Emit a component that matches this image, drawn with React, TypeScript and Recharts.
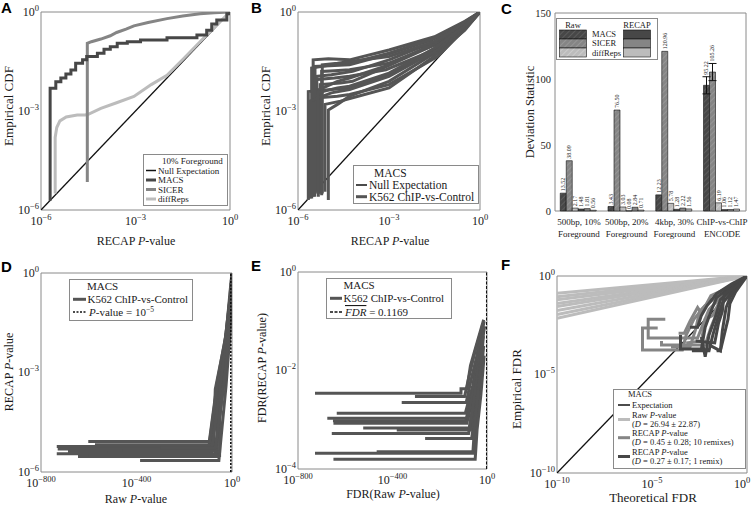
import React from 'react';
import { ComposedChart, Line, XAxis, YAxis, ReferenceArea, Bar, LabelList, ErrorBar } from 'recharts';

const SERIF = "'Liberation Serif', 'Times New Roman', serif";
const SANS = "'Liberation Sans', Arial, sans-serif";
const C_DARK = '#474747';
const C_MID = '#858585';
const C_LIGHT = '#bcbcbc';
const C_BLACK = '#111111';
const C_FRAME = '#8a8a8a';
const C_TEXT = '#1a1a1a';

type Pt = [number, number];
const xy = (pts: Pt[]) => pts.map(([x, y]) => ({ x, y }));

// ---------- Panel A (log10 values) ----------
const aTicks = [-6, -3, 0];
const aNull: Pt[] = [[-6, -6], [0, 0]];
const aMacs: Pt[] = [[-5.71, -5.72], [-5.71, -2.31], [-5.53, -2.11], [-5.37, -2.0], [-5.21, -1.88], [-5.05, -1.76], [-4.9, -1.55], [-4.68, -1.45], [-4.55, -1.35], [-4.21, -1.25], [-4.0, -1.13], [-3.8, -1.05], [-3.58, -0.95], [-3.26, -0.9], [-2.84, -0.85], [-2.0, -0.78], [-1.05, -0.7], [-0.74, -0.55], [-0.58, -0.36], [-0.42, -0.24], [-0.1, -0.05], [0, 0]];
const aSicer: Pt[] = [[-4.53, -5.15], [-4.53, -0.95], [-4.4, -0.9], [-4.1, -0.82], [-3.8, -0.72], [-3.6, -0.62], [-3.3, -0.52], [-3.05, -0.42], [-2.6, -0.32], [-2.0, -0.2], [-1.5, -0.12], [-0.95, -0.05], [-0.5, -0.02], [0, 0]];
const aDiffReps: Pt[] = [[-5.55, -5.5], [-5.55, -3.8], [-5.5, -3.5], [-5.4, -3.3], [-5.2, -3.18], [-4.85, -3.12], [-4.6, -3.12], [-4.5, -3.1], [-4.1, -2.92], [-3.6, -2.75], [-3.05, -2.56], [-2.5, -2.2], [-2.0, -1.92], [-1.5, -1.44], [-0.95, -0.9], [-0.45, -0.42], [0, 0]];

// ---------- Panel B ----------
const bNull: Pt[] = [[-6, -6], [0, 0]];
const bK562: Pt[][] = [
  [[-5.66, -5.7], [-5.66, -2.41], [-4.9, -2.35], [-4.3, -2.3], [-3.0, -1.9], [-1.5, -1.1], [-0.5, -0.4], [0, 0]],
  [[-5.5, -5.6], [-5.5, -1.45], [-5.0, -1.42], [-4.3, -1.45], [-3.0, -1.15], [-1.5, -0.75], [-0.5, -0.28], [0, 0]],
  [[-5.44, -5.5], [-5.44, -1.65], [-4.8, -1.62], [-4.3, -1.6], [-3.1, -1.3], [-1.6, -0.85], [-0.5, -0.32], [0, 0]],
  [[-5.38, -5.45], [-5.38, -1.95], [-4.9, -1.9], [-4.2, -1.8], [-3.0, -1.45], [-1.5, -0.9], [-0.5, -0.35], [0, 0]],
  [[-5.33, -5.6], [-5.33, -2.6], [-4.7, -2.55], [-4.3, -2.5], [-3.0, -2.2], [-1.4, -1.35], [-0.5, -0.52], [0, 0]],
  [[-5.27, -5.5], [-5.27, -2.2], [-4.6, -2.15], [-4.2, -2.1], [-3.2, -1.7], [-1.5, -1.0], [-0.5, -0.38], [0, 0]],
  [[-5.22, -5.55], [-5.22, -1.8], [-4.8, -1.78], [-4.3, -1.75], [-3.0, -1.55], [-1.5, -1.0], [-0.4, -0.4], [0, 0]],
  [[-5.11, -5.45], [-5.11, -2.8], [-4.6, -2.7], [-4.2, -2.6], [-3.0, -2.3], [-1.6, -1.4], [-0.5, -0.55], [0, 0]],
  [[-5.0, -5.7], [-5.0, -2.97], [-4.7, -2.8], [-4.3, -2.55], [-3.0, -2.1], [-1.5, -1.25], [-0.5, -0.48], [0, 0]],
  [[-5.55, -5.65], [-5.55, -1.7], [-4.9, -1.6], [-4.3, -1.55], [-3.0, -1.25], [-1.5, -0.8], [-0.5, -0.3], [0, 0]],
  [[-5.3, -5.5], [-5.3, -2.35], [-4.7, -2.1], [-4.3, -2.0], [-3.0, -1.6], [-1.5, -0.95], [-0.5, -0.37], [0, 0]],
  [[-5.45, -5.6], [-5.45, -2.05], [-4.8, -2.0], [-4.3, -1.95], [-3.1, -1.75], [-1.5, -1.15], [-0.5, -0.45], [0, 0]],
  [[-5.6, -5.65], [-5.6, -2.7], [-4.9, -2.45], [-4.3, -2.35], [-3.0, -1.95], [-1.5, -1.2], [-0.5, -0.46], [0, 0]],
  [[-5.2, -5.5], [-5.2, -1.6], [-4.7, -1.55], [-4.3, -1.5], [-3.0, -1.35], [-1.5, -0.9], [-0.5, -0.33], [0, 0]],
  [[-5.35, -5.5], [-5.35, -2.45], [-4.7, -2.3], [-4.3, -2.25], [-3.0, -1.85], [-1.5, -1.1], [-0.5, -0.42], [0, 0]],
];

// ---------- Panel C ----------
const cCatLine1 = ['500bp, 10%', '500bp, 20%', '4kbp, 30%', 'ChIP-vs-ChIP'];
const cCatLine2 = ['Foreground', 'Foreground', 'Foreground', 'ENCODE'];
const cRawMacs = [13.52, 3.43, 12.23, 95.22];
const cRawSicer = [38.09, 76.5, 120.96, 105.26];
const cRawDiffReps = [2.17, 3.03, 5.78, 6.19];
const cRecapMacs = [1.48, 0.08, 1.28, 1.06];
const cRecapSicer = [1.81, 2.84, 2.22, 1.12];
const cRecapDiffReps = [0.56, 0.71, 1.56, 1.47];
const cRawMacsErr = [0, 0, 0, 6.5];
const cRawSicerErr = [0, 0, 0, 6.5];
const cTicks = [0, 50, 100, 150];
const cData = cCatLine1.map((cat, i) => ({
  cat,
  rawMacs: cRawMacs[i], rawSicer: cRawSicer[i], rawDiff: cRawDiffReps[i],
  recMacs: cRecapMacs[i], recSicer: cRecapSicer[i], recDiff: cRecapDiffReps[i],
  errMacs: cRawMacsErr[i], errSicer: cRawSicerErr[i],
}));

// ---------- Panel D ----------
const dXTicks = [-800, -400, 0];
const dYTicks = [-6, -3, 0];
const dThreshold: Pt[] = [[-5, -6], [-5, 0]];
const dK562: Pt[][] = [
  [[-602, -5.08], [-95, -5.08], [-62, -3.3], [-24, -1.8], [-6, -0.4]],
  [[-734, -5.23], [-90, -5.23], [-48, -3.3], [-15, -1.8], [-3, -0.2]],
  [[-730, -5.31], [-78, -5.31], [-70, -3.5], [-28, -2.0], [-8, -0.7]],
  [[-734, -5.45], [-72, -5.45], [-32, -3.2], [-10, -1.6], [-1, 0]],
  [[-687, -5.38], [-85, -5.38], [-55, -3.3], [-20, -1.8], [-4, -0.3]],
  [[-645, -5.53], [-62, -5.53], [-60, -3.9], [-30, -2.1], [-10, -0.9]],
  [[-574, -5.18], [-82, -5.18], [-42, -3.1], [-12, -1.7], [-2, -0.1]],
  [[-385, -5.65], [-55, -5.65], [-25, -3.4], [-8, -1.8], [-1, -0.3]],
  [[-520, -5.42], [-100, -5.42], [-66, -3.6], [-30, -2.2], [-9, -1.0]],
  [[-460, -5.35], [-66, -5.35], [-36, -3.3], [-14, -1.9], [-3, -0.5]],
  [[-600, -5.5], [-52, -5.5], [-50, -3.4], [-18, -1.8], [-5, -0.6]],
  [[-300, -5.28], [-70, -5.28], [-28, -3.0], [-10, -1.5], [0, 0]],
];

// ---------- Panel E ----------
const eXTicks = [-800, -400, 0];
const eYTicks = [-4, -2, 0];
const eThreshold: Pt[] = [[-0.93, -4], [-0.93, 0]];
const eK562: Pt[][] = [
  [[-728, -2.46], [-110, -2.46], [-110, -2.37], [-85, -2.37], [-70, -1.9], [-40, -1.4], [-14, -0.97]],
  [[-305, -2.53], [-95, -2.53], [-75, -2.1], [-50, -1.6], [-22, -1.15]],
  [[-361, -2.65], [-88, -2.65], [-68, -2.2], [-45, -1.75], [-18, -1.05]],
  [[-636, -2.87], [-92, -2.87], [-60, -2.3], [-35, -1.55], [-12, -1.0]],
  [[-676, -2.97], [-80, -2.97], [-55, -2.4], [-38, -1.85], [-20, -1.25]],
  [[-652, -3.02], [-90, -3.02], [-66, -2.55], [-44, -2.0], [-24, -1.3]],
  [[-650, -3.07], [-85, -3.07], [-62, -2.5], [-42, -1.9], [-25, -1.35]],
  [[-524, -3.17], [-75, -3.17], [-50, -2.45], [-30, -1.7], [-10, -1.1]],
  [[-382, -3.21], [-70, -3.21], [-45, -2.6], [-28, -2.0], [-15, -1.3]],
  [[-657, -3.28], [-78, -3.28], [-58, -2.7], [-40, -2.05], [-22, -1.45]],
  [[-262, -3.38], [-65, -3.38], [-48, -2.8], [-32, -2.1], [-16, -1.2]],
  [[-467, -3.65], [-55, -3.65], [-45, -3.0], [-30, -2.3], [-14, -1.5]],
  [[-728, -3.68], [-60, -3.68], [-52, -3.1], [-36, -2.4], [-19, -1.6]],
  [[-650, -3.8], [-50, -3.8], [-42, -3.2], [-26, -2.5], [-12, -1.7]],
];

// ---------- Panel F ----------
const fTicks = [-10, -5, 0];
const fExpectation: Pt[] = [[-10, -10], [0, 0]];
const fRaw: Pt[][] = [
  [[-10, -0.88], [0, 0]], [[-10, -1.05], [0, 0]], [[-10, -1.2], [0, 0]], [[-10, -1.4], [0, 0]],
  [[-10, -1.55], [0, 0]], [[-10, -1.75], [0, 0]], [[-10, -1.95], [0, 0]], [[-10, -2.15], [0, 0]],
];
const fRecap10: Pt[][] = [
  [[-4.7, -2.64], [-5.5, -2.64], [-5.5, -3.76], [-3.4, -3.76], [-3.2, -3.0], [-2.8, -2.2], [-2.2, -1.5], [-1.2, -0.8], [0, 0]],
  [[-4.3, -2.2], [-5.2, -2.2], [-5.2, -3.15], [-2.6, -3.15], [-2.3, -2.4], [-2.0, -1.7], [-1.5, -1.2], [-0.8, -0.5], [0, 0]],
  [[-4.5, -3.3], [-4.5, -3.5], [-2.2, -3.5], [-1.9, -2.6], [-1.6, -1.9], [-1.3, -1.3], [-0.6, -0.6], [0, 0]],
  [[-3.6, -2.9], [-3.3, -2.9], [-3.0, -2.3], [-2.6, -1.6], [-2.4, -1.9], [-1.9, -1.0], [-1.0, -0.6], [0, 0]],
  [[-3.2, -3.4], [-2.4, -3.3], [-2.2, -2.2], [-1.8, -2.0], [-1.5, -1.4], [-0.9, -0.9], [-0.4, -0.3], [0, 0]],
  [[-4.0, -3.6], [-3.0, -3.6], [-2.7, -2.7], [-2.5, -1.8], [-2.0, -1.3], [-1.4, -0.9], [0, 0]],
];
const fRecap1: Pt[][] = [
  [[-3.5, -3.0], [-3.5, -3.7], [-2.4, -3.7], [-2.2, -2.6], [-1.9, -1.8], [-1.6, -1.1], [-0.8, -0.5], [0, 0]],
  [[-2.9, -3.8], [-2.0, -3.8], [-1.8, -3.0], [-1.5, -2.0], [-1.3, -1.4], [-0.7, -0.7], [0, 0]],
  [[-2.4, -3.1], [-2.2, -4.1], [-2.0, -3.0], [-1.7, -2.2], [-1.4, -1.2], [-0.5, -0.4], [0, 0]],
  [[-2.0, -3.5], [-1.4, -3.8], [-1.3, -2.8], [-1.1, -1.6], [-0.9, -1.1], [-0.4, -0.3], [0, 0]],
  [[-2.7, -3.3], [-1.7, -3.4], [-1.5, -2.4], [-1.3, -1.8], [-1.2, -0.9], [-0.5, -0.5], [0, 0]],
  [[-3.0, -2.6], [-2.6, -2.6], [-2.4, -2.0], [-2.1, -1.5], [-1.6, -0.9], [-0.8, -0.4], [0, 0]],
  [[-1.6, -3.8], [-1.4, -3.8], [-1.0, -2.2], [-0.9, -1.4], [-0.6, -0.8], [0, 0]],
];

// ---------- helpers ----------
const expStr = (v: number) => (v === 0 ? '0' : '\u2212' + Math.abs(v));
const PowX = (props: any) => {
  const { x, y, payload, shift } = props;
  return (
    <text x={x + (shift || 0)} y={y + 15} textAnchor="middle" fontFamily={SERIF} fontSize={12} fill={C_TEXT}>
      10<tspan dy={-5} fontSize={8.5}>{expStr(payload.value)}</tspan>
    </text>
  );
};
const PowY = (props: any) => {
  const { x, y, payload } = props;
  return (
    <text x={x - 2} y={y + 3.5} textAnchor="end" fontFamily={SERIF} fontSize={12} fill={C_TEXT}>
      10<tspan dy={-5} fontSize={8.5}>{expStr(payload.value)}</tspan>
    </text>
  );
};
const CTick = (props: any) => {
  const { x, y, payload } = props;
  const i = cCatLine1.indexOf(payload.value);
  return (
    <text x={x} y={y + 14} textAnchor="middle" fontFamily={SERIF} fontSize={9} fill={C_TEXT}>
      <tspan x={x}>{cCatLine1[i]}</tspan>
      <tspan x={x} dy={11.5}>{cCatLine2[i]}</tspan>
    </text>
  );
};
const valLabel = (errs?: number[]) => (props: any) => {
  const { x, y, width, value, index } = props;
  const off = errs && index != null ? errs[index] * (198 / 150) : 0;
  const cx = Number(x) + Number(width) / 2;
  const ty = Number(y) - 2 - off;
  return (
    <text x={cx} y={ty} transform={`rotate(-90 ${cx} ${ty})`} fontSize={6} fontFamily={SERIF}
      textAnchor="start" dominantBaseline="central" fill={C_TEXT}>
      {Number(value).toFixed(2)}
    </text>
  );
};

const LineSet = (pts: Pt[][], color: string, w: number, key: string) =>
  pts.map((p, i) => (
    <Line key={key + i} data={xy(p)} dataKey="y" stroke={color} strokeWidth={w} dot={false}
      isAnimationActive={false} strokeLinejoin="miter" />
  ));

interface LogPanelProps {
  left: number; top: number; width: number; height: number;
  mTop: number; mRight: number; yW: number; xH: number;
  xDomain: [number, number]; yDomain: [number, number];
  xTicks: number[]; yTicks: number[];
  lastShift?: number;
  children: React.ReactNode;
}
const LogPanel = (p: LogPanelProps) => (
  <div style={{ position: 'absolute', left: p.left, top: p.top }}>
    <ComposedChart width={p.width} height={p.height} margin={{ top: p.mTop, right: p.mRight, bottom: 0, left: 0 }}>
      <XAxis type="number" dataKey="x" domain={p.xDomain} ticks={p.xTicks}
        tick={(t: any) => <PowX {...t} shift={t.payload && t.payload.value === p.xDomain[1] ? (p.lastShift || 0) : 0} />}
        axisLine={false} tickLine={false} tickSize={0} tickMargin={0} height={p.xH} allowDataOverflow interval={0} />
      <YAxis type="number" dataKey="y" domain={p.yDomain} ticks={p.yTicks} tick={(t: any) => <PowY {...t} />}
        axisLine={false} tickLine={false} tickSize={0} tickMargin={0} width={p.yW} allowDataOverflow interval={0} />
      <ReferenceArea x1={p.xDomain[0]} x2={p.xDomain[1]} y1={p.yDomain[0]} y2={p.yDomain[1]}
        fill="none" fillOpacity={0} stroke={C_FRAME} strokeWidth={1} ifOverflow="visible" />
      {p.children}
    </ComposedChart>
  </div>
);

const It = ({ children }: { children: React.ReactNode }) => <tspan fontStyle="italic">{children}</tspan>;

export default function App() {
  return (
    <div style={{ position: 'absolute', left: 0, top: 0, width: 753, height: 506, background: '#fff', overflow: 'hidden' }}>
      {/* A */}
      <LogPanel left={0} top={0} width={250} height={250} mTop={12} mRight={20} yW={41} xH={40}
        xDomain={[-6, 0]} yDomain={[-6, 0]} xTicks={aTicks} yTicks={aTicks}>
        <Line data={xy(aNull)} dataKey="y" stroke={C_BLACK} strokeWidth={1.3} dot={false} isAnimationActive={false} />
        <Line data={xy(aDiffReps)} dataKey="y" stroke={C_LIGHT} strokeWidth={3} dot={false} isAnimationActive={false} />
        <Line data={xy(aSicer)} dataKey="y" stroke={C_MID} strokeWidth={3} dot={false} isAnimationActive={false} />
        <Line data={xy(aMacs)} dataKey="y" type="stepAfter" stroke={C_DARK} strokeWidth={3} dot={false} isAnimationActive={false} />
      </LogPanel>

      {/* B */}
      <LogPanel left={250} top={0} width={248} height={250} mTop={12} mRight={18} yW={48} xH={40}
        xDomain={[-6, 0]} yDomain={[-6, 0]} xTicks={aTicks} yTicks={aTicks}>
        <Line data={xy(bNull)} dataKey="y" stroke={C_BLACK} strokeWidth={1.3} dot={false} isAnimationActive={false} />
        {LineSet(bK562, '#555555', 3, 'b')}
      </LogPanel>

      {/* C */}
      <div style={{ position: 'absolute', left: 500, top: 0 }}>
        <ComposedChart width={250} height={250} data={cData} margin={{ top: 13, right: 4, bottom: 0, left: 0 }}
          barCategoryGap="11%" barGap={0}>
          <defs>
            <pattern id="hDark" patternUnits="userSpaceOnUse" width={4} height={4} patternTransform="rotate(45)">
              <rect width={4} height={4} fill={C_DARK} />
              <line x1={0} y1={0} x2={0} y2={4} stroke="#707070" strokeWidth={1} />
            </pattern>
            <pattern id="hMid" patternUnits="userSpaceOnUse" width={4} height={4} patternTransform="rotate(45)">
              <rect width={4} height={4} fill={C_MID} />
              <line x1={0} y1={0} x2={0} y2={4} stroke="#a8a8a8" strokeWidth={1} />
            </pattern>
            <pattern id="hLight" patternUnits="userSpaceOnUse" width={4} height={4} patternTransform="rotate(45)">
              <rect width={4} height={4} fill={C_LIGHT} />
              <line x1={0} y1={0} x2={0} y2={4} stroke="#dcdcdc" strokeWidth={1} />
            </pattern>
          </defs>
          <XAxis dataKey="cat" type="category" tick={(t: any) => <CTick {...t} />} axisLine={false} tickLine={false}
            tickSize={0} tickMargin={0} height={39} interval={0} />
          <YAxis type="number" domain={[0, 150]} ticks={cTicks} axisLine={false} tickLine={false} tickSize={0}
            tickMargin={4} width={55} tick={{ fontFamily: SERIF, fontSize: 10.5, fill: C_TEXT }} />
          <ReferenceArea y1={0} y2={150} fill="none" fillOpacity={0} stroke={C_FRAME} strokeWidth={1} ifOverflow="visible" />
          <Bar dataKey="rawMacs" fill="url(#hDark)" stroke="#111" strokeWidth={0.6} isAnimationActive={false}>
            <ErrorBar dataKey="errMacs" width={4} stroke="#111" strokeWidth={1} direction="y" />
            <LabelList dataKey="rawMacs" content={valLabel(cRawMacsErr)} />
          </Bar>
          <Bar dataKey="rawSicer" fill="url(#hMid)" stroke="#111" strokeWidth={0.6} isAnimationActive={false}>
            <ErrorBar dataKey="errSicer" width={4} stroke="#111" strokeWidth={1} direction="y" />
            <LabelList dataKey="rawSicer" content={valLabel(cRawSicerErr)} />
          </Bar>
          <Bar dataKey="rawDiff" fill="url(#hLight)" stroke="#111" strokeWidth={0.6} isAnimationActive={false}>
            <LabelList dataKey="rawDiff" content={valLabel()} />
          </Bar>
          <Bar dataKey="recMacs" fill={C_DARK} stroke="#111" strokeWidth={0.6} isAnimationActive={false}>
            <LabelList dataKey="recMacs" content={valLabel()} />
          </Bar>
          <Bar dataKey="recSicer" fill={C_MID} stroke="#111" strokeWidth={0.6} isAnimationActive={false}>
            <LabelList dataKey="recSicer" content={valLabel()} />
          </Bar>
          <Bar dataKey="recDiff" fill={C_LIGHT} stroke="#111" strokeWidth={0.6} isAnimationActive={false}>
            <LabelList dataKey="recDiff" content={valLabel()} />
          </Bar>
        </ComposedChart>
      </div>

      {/* D */}
      <LogPanel left={0} top={250} width={250} height={256} mTop={23} mRight={18} yW={41} xH={34}
        xDomain={[-800, 0]} yDomain={[-6, 0]} xTicks={dXTicks} yTicks={dYTicks}>
        {LineSet(dK562, '#555555', 3, 'd')}
        <Line data={xy(dThreshold)} dataKey="y" stroke={C_BLACK} strokeWidth={1.6} strokeDasharray="2 1.5" dot={false} isAnimationActive={false} />
      </LogPanel>

      {/* E */}
      <LogPanel left={250} top={250} width={250} height={256} mTop={22} mRight={13} yW={48} xH={37}
        xDomain={[-800, 0]} yDomain={[-4, 0]} xTicks={eXTicks} yTicks={eYTicks}>
        {LineSet(eK562, '#555555', 3, 'e')}
        <Line data={xy(eThreshold)} dataKey="y" stroke={C_BLACK} strokeWidth={1.6} strokeDasharray="3 1.5" dot={false} isAnimationActive={false} />
      </LogPanel>

      {/* F */}
      <LogPanel left={500} top={250} width={253} height={256} mTop={26} mRight={6} yW={57} xH={33}
        xDomain={[-10, 0]} yDomain={[-10, 0]} xTicks={fTicks} yTicks={fTicks} lastShift={-5}>
        <Line data={xy(fExpectation)} dataKey="y" stroke={C_BLACK} strokeWidth={1.3} dot={false} isAnimationActive={false} />
        {LineSet(fRaw, C_LIGHT, 3, 'fr')}
        {LineSet(fRecap10, C_MID, 3, 'fm')}
        {LineSet(fRecap1, C_DARK, 3, 'fd')}
      </LogPanel>

      {/* overlay: panel letters, axis labels, legends */}
      <svg width={753} height={506} style={{ position: 'absolute', left: 0, top: 0, pointerEvents: 'none' }}>
        <defs>
          <pattern id="lgDark" patternUnits="userSpaceOnUse" width={4} height={4} patternTransform="rotate(45)">
            <rect width={4} height={4} fill={C_DARK} />
            <line x1={0} y1={0} x2={0} y2={4} stroke="#707070" strokeWidth={1} />
          </pattern>
          <pattern id="lgMid" patternUnits="userSpaceOnUse" width={4} height={4} patternTransform="rotate(45)">
            <rect width={4} height={4} fill={C_MID} />
            <line x1={0} y1={0} x2={0} y2={4} stroke="#a8a8a8" strokeWidth={1} />
          </pattern>
          <pattern id="lgLight" patternUnits="userSpaceOnUse" width={4} height={4} patternTransform="rotate(45)">
            <rect width={4} height={4} fill={C_LIGHT} />
            <line x1={0} y1={0} x2={0} y2={4} stroke="#dcdcdc" strokeWidth={1} />
          </pattern>
        </defs>
        <g fontFamily={SANS} fontWeight="bold" fontSize={15} fill="#000">
          <text x={1} y={13}>A</text>
          <text x={251} y={13}>B</text>
          <text x={501} y={14}>C</text>
          <text x={1} y={272}>D</text>
          <text x={251} y={271}>E</text>
          <text x={501} y={270}>F</text>
        </g>
        <g fontFamily={SERIF} fill={C_TEXT}>
          <text x={136} y={245} fontSize={12} textAnchor="middle">RECAP <It>P</It>-value</text>
          <text transform="translate(13,106) rotate(-90)" fontSize={13} textAnchor="middle">Empirical CDF</text>
          <text x={390} y={245} fontSize={12} textAnchor="middle">RECAP <It>P</It>-value</text>
          <text transform="translate(270,106) rotate(-90)" fontSize={13} textAnchor="middle">Empirical CDF</text>
          <text transform="translate(534,112) rotate(-90)" fontSize={12.5} textAnchor="middle">Deviation Statistic</text>
          <text x={136} y={503} fontSize={12} textAnchor="middle">Raw <It>P</It>-value</text>
          <text transform="translate(13,372) rotate(-90)" fontSize={12} textAnchor="middle">RECAP <It>P</It>-value</text>
          <text x={393} y={498} fontSize={12} textAnchor="middle">FDR(Raw <It>P</It>-value)</text>
          <text transform="translate(266,368) rotate(-90)" fontSize={12} textAnchor="middle">FDR(RECAP <It>P</It>-value)</text>
          <text x={653} y={502} fontSize={13} textAnchor="middle">Theoretical FDR</text>
          <text transform="translate(521,389) rotate(-90)" fontSize={13} textAnchor="middle">Empirical FDR</text>
        </g>

        {/* Legend A */}
        <g fontFamily={SERIF} fontSize={9} fill={C_TEXT}>
          <rect x={143.5} y={154.5} width={84} height={51} fill="#fff" stroke={C_FRAME} />
          <text x={162} y={164}>10% Foreground</text>
          <line x1={146} x2={156} y1={170.5} y2={170.5} stroke={C_BLACK} strokeWidth={1.5} />
          <text x={158} y={173.5}>Null Expectation</text>
          <line x1={146} x2={156} y1={180} y2={180} stroke={C_DARK} strokeWidth={3} />
          <text x={158} y={183}>MACS</text>
          <line x1={146} x2={156} y1={189.5} y2={189.5} stroke={C_MID} strokeWidth={3} />
          <text x={158} y={192.5}>SICER</text>
          <line x1={146} x2={156} y1={199} y2={199} stroke={C_LIGHT} strokeWidth={3} />
          <text x={158} y={202}>diffReps</text>
        </g>

        {/* Legend B */}
        <g fontFamily={SERIF} fontSize={11.5} fill={C_TEXT}>
          <rect x={353.5} y={165.5} width={125} height={38} fill="#fff" stroke={C_FRAME} />
          <text x={374} y={177}>MACS</text>
          <line x1={356} x2={367} y1={185} y2={185} stroke={C_BLACK} strokeWidth={1.5} />
          <text x={369} y={189}>Null Expectation</text>
          <line x1={356} x2={367} y1={196.7} y2={196.7} stroke="#555555" strokeWidth={3} />
          <text x={369} y={200.7}>K562 ChIP-vs-Control</text>
        </g>

        {/* Legend C */}
        <g fontFamily={SERIF} fontSize={8.5} fill={C_TEXT}>
          <rect x={556.5} y={18.5} width={101} height={41} fill="#fff" stroke={C_FRAME} />
          <text x={573} y={27.5} textAnchor="middle">Raw</text>
          <text x={637} y={27.5} textAnchor="middle">RECAP</text>
          <rect x={559.5} y={30} width={27} height={9} fill="url(#lgDark)" stroke="#111" strokeWidth={0.6} />
          <rect x={559.5} y={39} width={27} height={9} fill="url(#lgMid)" stroke="#111" strokeWidth={0.6} />
          <rect x={559.5} y={48} width={27} height={9} fill="url(#lgLight)" stroke="#111" strokeWidth={0.6} />
          <rect x={623.5} y={30} width={27} height={9} fill={C_DARK} stroke="#111" strokeWidth={0.6} />
          <rect x={623.5} y={39} width={27} height={9} fill={C_MID} stroke="#111" strokeWidth={0.6} />
          <rect x={623.5} y={48} width={27} height={9} fill={C_LIGHT} stroke="#111" strokeWidth={0.6} />
          <text x={592} y={37.3}>MACS</text>
          <text x={592} y={46.3}>SICER</text>
          <text x={592} y={55.5}>diffReps</text>
        </g>

        {/* Legend D */}
        <g fontFamily={SERIF} fontSize={11} fill={C_TEXT}>
          <rect x={69.5} y={279.5} width={123} height={41} fill="#fff" stroke={C_FRAME} />
          <text x={87} y={290}>MACS</text>
          <line x1={73} x2={86} y1={299.3} y2={299.3} stroke="#555555" strokeWidth={3} />
          <text x={87.5} y={303}>K562 ChIP-vs-Control</text>
          <line x1={73} x2={86} y1={312} y2={312} stroke={C_BLACK} strokeWidth={1.6} strokeDasharray="2 1.5" />
          <text x={89} y={316}><It>P</It>-value = 10<tspan dy={-4} fontSize={7.5}>{'\u2212'}5</tspan></text>
        </g>

        {/* Legend E */}
        <g fontFamily={SERIF} fontSize={11} fill={C_TEXT}>
          <rect x={326.5} y={278.5} width={125} height={40} fill="#fff" stroke={C_FRAME} />
          <text x={343.5} y={289}>MACS</text>
          <line x1={330} x2={342} y1={298.3} y2={298.3} stroke="#555555" strokeWidth={3} />
          <text x={343.5} y={302}>K562 ChIP-vs-Control</text>
          <line x1={330} x2={342} y1={312} y2={312} stroke={C_BLACK} strokeWidth={1.6} strokeDasharray="3 1.5" />
          <text x={345} y={316}><tspan fontStyle="italic" style={{ textDecoration: 'overline' }}>FDR</tspan> = 0.1169</text>
        </g>

        {/* Legend F */}
        <g fontFamily={SERIF} fontSize={8.5} fill={C_TEXT}>
          <rect x={613.5} y={389.5} width={132} height={79} fill="#fff" stroke={C_FRAME} />
          <text x={628} y={396.5}>MACS</text>
          <line x1={618} x2={630} y1={405} y2={405} stroke={C_BLACK} strokeWidth={1.5} />
          <text x={632} y={408}>Expectation</text>
          <line x1={618} x2={630} y1={419.5} y2={419.5} stroke={C_LIGHT} strokeWidth={3} />
          <text x={632} y={418}>Raw <It>P</It>-value</text>
          <text x={632} y={427}>(<It>D</It> = 26.94 ± 22.87)</text>
          <line x1={618} x2={630} y1={437.7} y2={437.7} stroke={C_MID} strokeWidth={3} />
          <text x={632} y={436.3}>RECAP <It>P</It>-value</text>
          <text x={632} y={445.3}>(<It>D</It> = 0.45 ± 0.28; 10 remixes)</text>
          <line x1={618} x2={630} y1={456.5} y2={456.5} stroke={C_DARK} strokeWidth={3} />
          <text x={632} y={454.7}>RECAP <It>P</It>-value</text>
          <text x={632} y={464}>(<It>D</It> = 0.27 ± 0.17; 1 remix)</text>
        </g>
      </svg>
    </div>
  );
}
